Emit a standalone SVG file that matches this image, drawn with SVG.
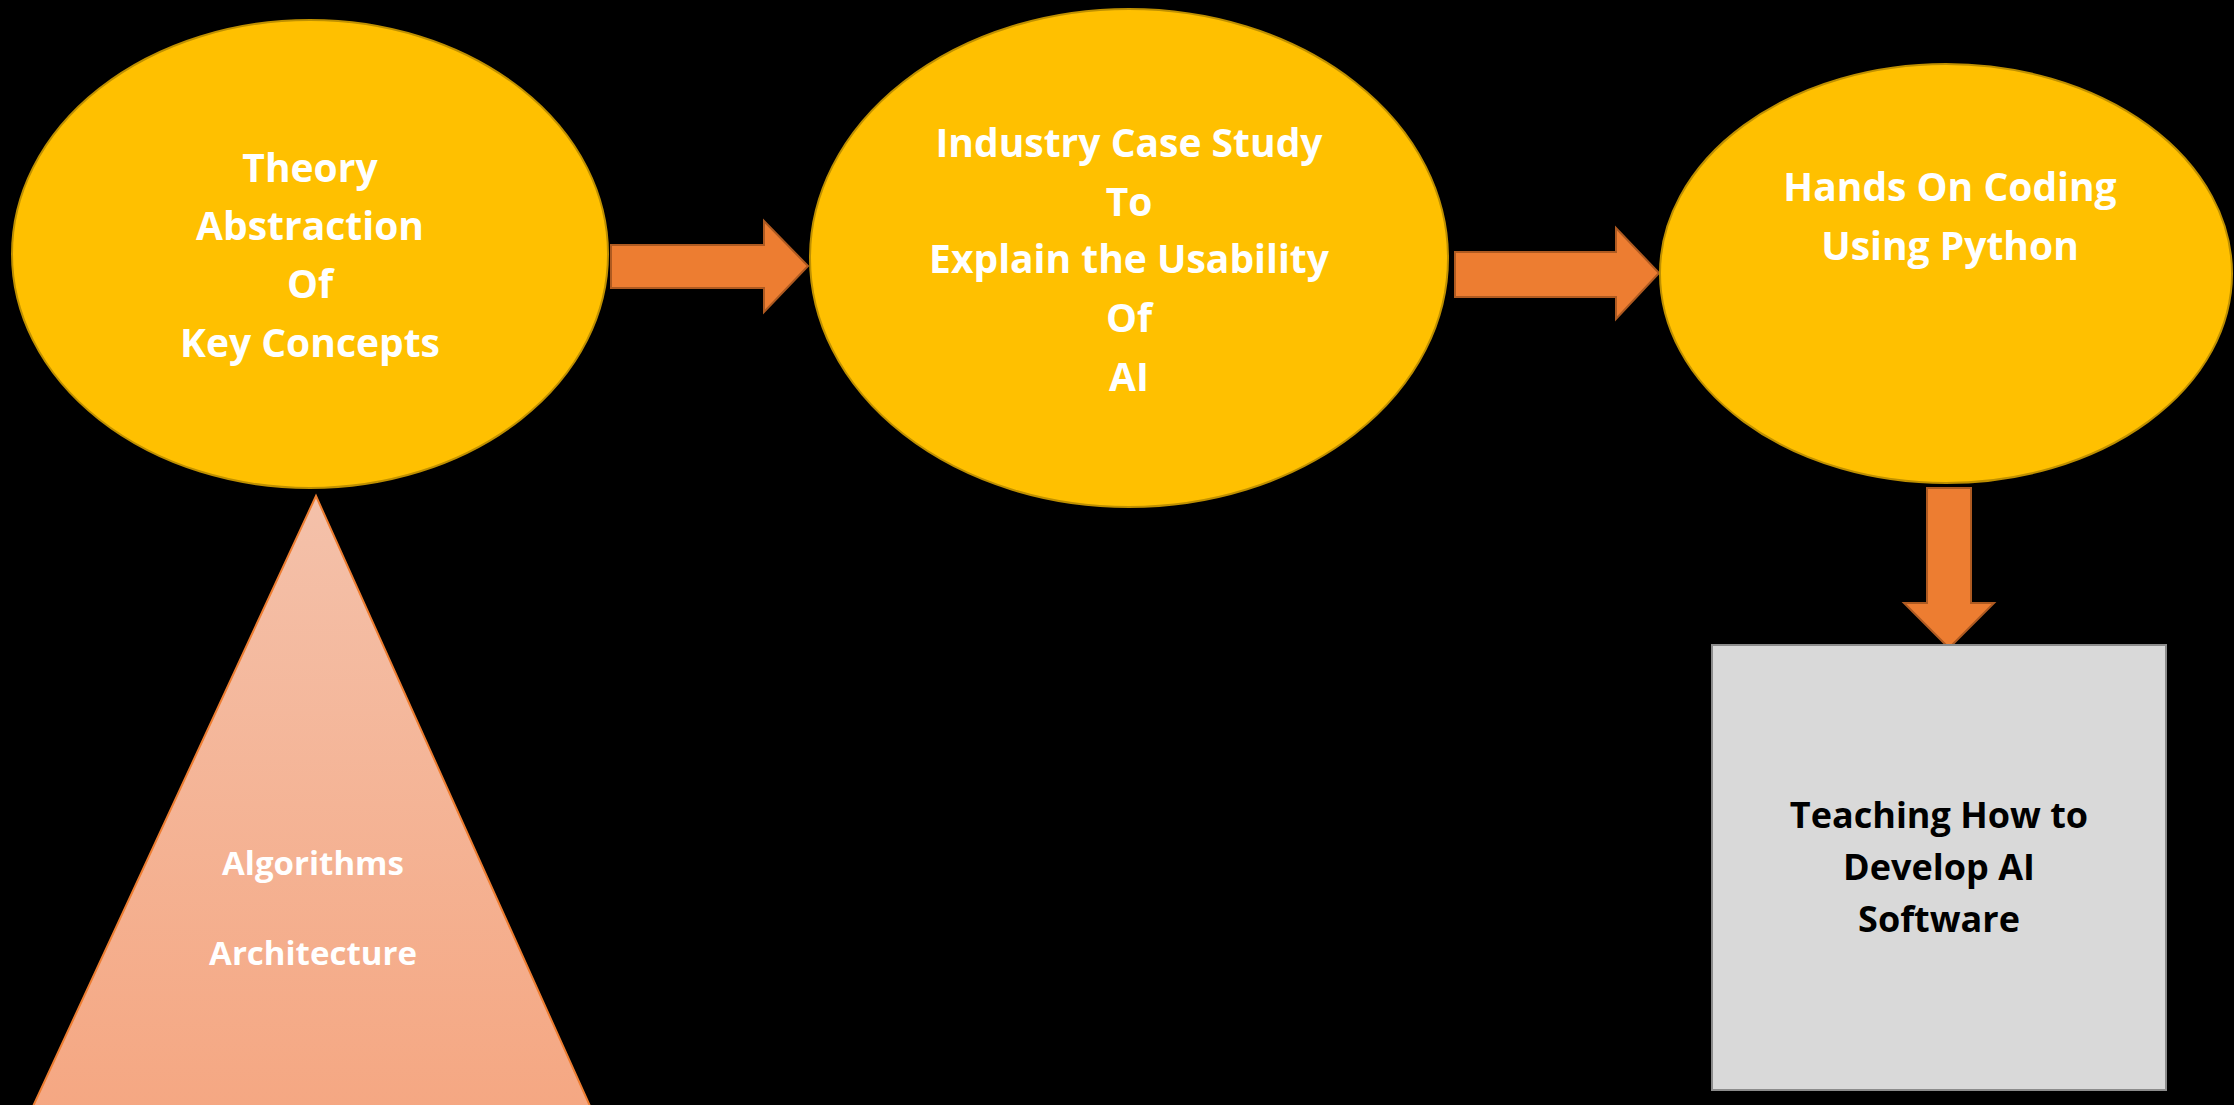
<svg xmlns="http://www.w3.org/2000/svg" width="2234" height="1105" viewBox="0 0 2234 1105">
  <defs>
    <linearGradient id="triGrad" x1="0" y1="0" x2="0" y2="1">
      <stop offset="0" stop-color="#f4c1aa"/>
      <stop offset="1" stop-color="#f5a782"/>
    </linearGradient>
    <style>
      .ell { fill: #ffc000; stroke: #bf9000; stroke-width: 2; }
      .arrow { fill: #ed7d31; stroke: #ae5a21; stroke-width: 2; }
      .tri { fill: url(#triGrad); stroke: #ed7d31; stroke-width: 2; }
      .box { fill: #d9d9d9; stroke: #8c8c8c; stroke-width: 2; }
      .wt { font-family: "Open Sans", "Liberation Sans", sans-serif; font-weight: 700; fill: #ffffff; text-anchor: middle; }
      .big { font-size: 39px; }
      .small { font-size: 33px; }
      .bt { font-family: "Open Sans", "Liberation Sans", sans-serif; font-weight: 700; fill: #000000; text-anchor: middle; font-size: 36px; }
    </style>
  </defs>
  <rect x="0" y="0" width="2234" height="1105" fill="#000000"/>

  <g id="connectors">
    <polygon class="arrow" points="611,245 764,245 764,221 808,266 764,312 764,288 611,288"/>
    <polygon class="arrow" points="1455,252 1616,252 1616,228 1659,273 1616,319 1616,297 1455,297"/>
    <polygon class="arrow" points="1927,488 1971,488 1971,603 1994,603 1949,648 1904,603 1927,603"/>
  </g>

  <g id="node-theory">
    <ellipse class="ell" cx="310" cy="254" rx="298" ry="234"/>
    <text class="wt big" x="310" y="182">Theory</text>
    <text class="wt big" x="310" y="240">Abstraction</text>
    <text class="wt big" x="310" y="298">Of</text>
    <text class="wt big" x="310" y="357">Key Concepts</text>
  </g>

  <g id="node-industry">
    <ellipse class="ell" cx="1129" cy="258" rx="319" ry="249"/>
    <text class="wt big" x="1129" y="157">Industry Case Study</text>
    <text class="wt big" x="1129" y="216">To</text>
    <text class="wt big" x="1129" y="273">Explain the Usability</text>
    <text class="wt big" x="1129" y="332">Of</text>
    <text class="wt big" x="1129" y="391">AI</text>
  </g>

  <g id="node-hands-on">
    <ellipse class="ell" cx="1946" cy="273.5" rx="286" ry="209.5"/>
    <text class="wt big" x="1950" y="201">Hands On Coding</text>
    <text class="wt big" x="1950" y="260">Using Python</text>
  </g>

  <g id="node-foundations">
    <polygon class="tri" points="316,496 29,1115 594,1115"/>
    <text class="wt small" x="313" y="875">Algorithms</text>
    <text class="wt small" x="313" y="965">Architecture</text>
  </g>

  <g id="node-teaching">
    <rect class="box" x="1712" y="645" width="454" height="445"/>
    <text class="bt" x="1939" y="828">Teaching How to</text>
    <text class="bt" x="1939" y="880">Develop AI</text>
    <text class="bt" x="1939" y="932">Software</text>
  </g>
</svg>
